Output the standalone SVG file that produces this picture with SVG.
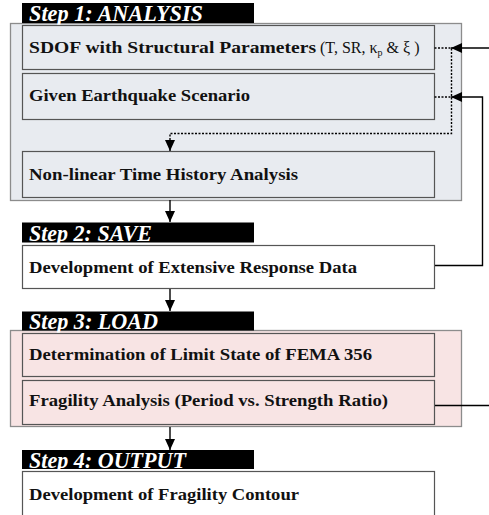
<svg xmlns="http://www.w3.org/2000/svg" width="489" height="515" viewBox="0 0 489 515">
<style>
.cont{stroke:#8c8c8c;stroke-width:1.3}
.box{stroke:#555;stroke-width:1.2}
.t{font-family:"Liberation Serif","Times New Roman",serif;font-size:17.5px;font-weight:bold;fill:#111}
.r{font-family:"Liberation Serif","Times New Roman",serif;font-size:16px;font-weight:normal;fill:#111}
.bar{fill:#000}
.lbl{font-family:"Liberation Serif","Times New Roman",serif;font-size:23px;font-weight:bold;font-style:italic;fill:#fff}
.ln{fill:none;stroke:#000;stroke-width:1.4}
.dt{fill:none;stroke:#000;stroke-width:1.4;stroke-dasharray:2 1.5}
</style>
<defs>
<marker id="ah" viewBox="0 0 11 10" refX="11" refY="5" markerWidth="11" markerHeight="10" markerUnits="userSpaceOnUse" orient="auto">
<path d="M0,0 L11,5 L0,10 Z" fill="#000"/>
</marker>
</defs>
<g id="step1">
<rect class="cont" x="10.5" y="23.5" width="451" height="177" fill="#e8ebf0"/>
<rect class="bar" x="22" y="3" width="232" height="20"/>
<text class="lbl" x="29" y="21" textLength="174" lengthAdjust="spacingAndGlyphs">Step 1: ANALYSIS</text>
</g>
<g id="sdof">
<rect class="box" x="22.5" y="25.5" width="412" height="44" fill="#e8ebf0"/>
<text class="t" x="29" y="53" textLength="287" lengthAdjust="spacingAndGlyphs">SDOF with Structural Parameters</text>
<text class="r" x="320" y="53">(T, SR, κ<tspan font-size="10" dy="3">p</tspan><tspan dy="-3"> &amp; ξ )</tspan></text>
</g>
<g id="given">
<rect class="box" x="22.5" y="73.5" width="412" height="46" fill="#e8ebf0"/>
<text class="t" x="29" y="101" textLength="221" lengthAdjust="spacingAndGlyphs">Given Earthquake Scenario</text>
</g>
<g id="nonlinear">
<rect class="box" x="22.5" y="151.5" width="412" height="46" fill="#e8ebf0"/>
<text class="t" x="29" y="180" textLength="269" lengthAdjust="spacingAndGlyphs">Non-linear Time History Analysis</text>
</g>
<g id="step2">
<rect class="bar" x="22" y="222.5" width="232" height="20"/>
<text class="lbl" x="29" y="240.5" textLength="123" lengthAdjust="spacingAndGlyphs">Step 2: SAVE</text>
</g>
<g id="development">
<rect class="box" x="22.5" y="245.5" width="412" height="43" fill="#fff"/>
<text class="t" x="29" y="273" textLength="328" lengthAdjust="spacingAndGlyphs">Development of Extensive Response Data</text>
</g>
<g id="step3">
<rect class="cont" x="10.5" y="330.5" width="451" height="96" fill="#f8e4e4"/>
<rect class="bar" x="22" y="311.5" width="232" height="19"/>
<text class="lbl" x="29" y="329" textLength="129" lengthAdjust="spacingAndGlyphs">Step 3: LOAD</text>
</g>
<g id="determination">
<rect class="box" x="22.5" y="333.5" width="412" height="43" fill="#f8e4e4"/>
<text class="t" x="29" y="360" textLength="343" lengthAdjust="spacingAndGlyphs">Determination of Limit State of FEMA 356</text>
</g>
<g id="fragility">
<rect class="box" x="22.5" y="380.5" width="412" height="44" fill="#f8e4e4"/>
<text class="t" x="29" y="406" textLength="359" lengthAdjust="spacingAndGlyphs">Fragility Analysis (Period vs. Strength Ratio)</text>
</g>
<g id="step4">
<rect class="bar" x="22" y="450" width="232" height="19"/>
<text class="lbl" x="29" y="467.5" textLength="157" lengthAdjust="spacingAndGlyphs">Step 4: OUTPUT</text>
</g>
<g id="contour">
<rect class="box" x="22.5" y="471.5" width="412" height="60" fill="#fff"/>
<text class="t" x="29" y="500" textLength="270" lengthAdjust="spacingAndGlyphs">Development of Fragility Contour</text>
</g>
<g id="connectors">
<path class="dt" d="M434.5,48 H451.5 V133.5 H170 V140"/>
<path class="dt" d="M434.5,97 H451.5"/>
<path class="ln" d="M170,140 V151" marker-end="url(#ah)"/>
<path class="ln" d="M489,48 H451" marker-end="url(#ah)"/>
<path class="ln" d="M435,265.5 H482.5 V97 H451" marker-end="url(#ah)"/>
<path class="ln" d="M170,200 V222" marker-end="url(#ah)"/>
<path class="ln" d="M170,289 V311" marker-end="url(#ah)"/>
<path class="ln" d="M170,427 V450" marker-end="url(#ah)"/>
<path class="ln" d="M435,405.5 H489"/>
</g>
</svg>
